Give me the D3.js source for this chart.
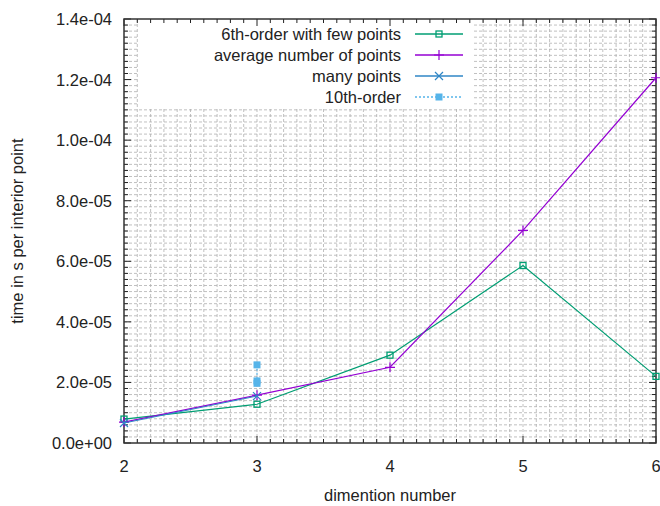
<!doctype html>
<html lang="en">
<head>
  <meta charset="utf-8">
  <title>time per interior point</title>
  <script src="https://cdnjs.cloudflare.com/ajax/libs/d3/7.8.5/d3.min.js"></script>
  <style>
    body { margin: 0; background: #fff; }
    text { font-family: "Liberation Sans", Arial, sans-serif; fill: #222; }
  </style>
</head>
<body>
<svg width="660" height="506" id="svg"></svg>
<script>
// data
var fewX = [2, 3, 4, 5, 6];
var fewY = [7.9e-6, 1.28e-5, 2.9e-5, 5.86e-5, 2.2e-5];
var avgX = [2, 3, 4, 5, 6];
var avgY = [6.9e-6, 1.58e-5, 2.5e-5, 7.02e-5, 1.206e-4];
var manyX = [2, 3];
var manyY = [6.6e-6, 1.55e-5];
var tenthX = [3, 3, 3];
var tenthY = [2.58e-5, 2.05e-5, 1.97e-5];

var xTicks = [2, 3, 4, 5, 6];
var yTicks = [0, 2e-5, 4e-5, 6e-5, 8e-5, 1e-4, 1.2e-4, 1.4e-4];
var legendNames = ['6th-order with few points', 'average number of points', 'many points', '10th-order'];

var svg = d3.select('#svg');
var L = 124, R = 656, T = 19, B = 443;
var fs = 16.5;

var x = d3.scaleLinear().domain([2, 6]).range([L, R]);
var y = d3.scaleLinear().domain([0, 1.4e-4]).range([B, T]);

var xMinor = d3.range(20, 61).map(function(d) { return d / 10; });
var yMinor = d3.range(0, 71).map(function(d) { return d * 0.2e-5; });

/* grid: dashed grey on every minor step */
var grid = svg.append('g');
grid.selectAll('.gx').data(xMinor.slice(1, -1)).enter().append('line')
  .attr('x1', function(d) { return x(d); }).attr('x2', function(d) { return x(d); })
  .attr('y1', T).attr('y2', B)
  .attr('stroke', '#b0b0b0').attr('stroke-width', 0.8).attr('stroke-dasharray', '3,2');
grid.selectAll('.gy').data(yMinor.slice(1, -1)).enter().append('line')
  .attr('x1', L).attr('x2', R)
  .attr('y1', function(d) { return y(d); }).attr('y2', function(d) { return y(d); })
  .attr('stroke', '#b0b0b0').attr('stroke-width', 0.8).attr('stroke-dasharray', '3,2');

/* legend box hides the grid behind it */
svg.append('rect').attr('x', 138).attr('y', T + 1).attr('width', 336).attr('height', 88).attr('fill', '#fff');

/* minor + major ticks, mirrored on all sides */
var ticks = svg.append('g').attr('stroke', '#222').attr('stroke-width', 1);
xMinor.forEach(function(d) {
  var len = xTicks.indexOf(d) >= 0 ? 7 : 4;
  ticks.append('line').attr('x1', x(d)).attr('x2', x(d)).attr('y1', B).attr('y2', B - len);
  ticks.append('line').attr('x1', x(d)).attr('x2', x(d)).attr('y1', T).attr('y2', T + len);
});
yMinor.forEach(function(d, i) {
  var len = i % 10 == 0 ? 7 : 4;
  ticks.append('line').attr('x1', L).attr('x2', L + len).attr('y1', y(d)).attr('y2', y(d));
  ticks.append('line').attr('x1', R).attr('x2', R - len).attr('y1', y(d)).attr('y2', y(d));
});

svg.append('rect').attr('x', L).attr('y', T).attr('width', R - L).attr('height', B - T)
  .attr('fill', 'none').attr('stroke', '#333').attr('stroke-width', 1.5);

/* tick labels */
svg.selectAll('.xl').data(xTicks).enter().append('text')
  .attr('x', function(d) { return x(d); }).attr('y', B + 29)
  .attr('text-anchor', 'middle').attr('font-size', fs).text(function(d) { return d; });
svg.selectAll('.yl').data(yTicks).enter().append('text')
  .attr('x', L - 12).attr('y', function(d) { return y(d) + 6; })
  .attr('text-anchor', 'end').attr('font-size', fs)
  .text(function(d) { return d3.format('.1e')(d).replace(/e([+-])(\d)$/, 'e$10$2'); });

svg.append('text').attr('x', (L + R) / 2).attr('y', 501).attr('text-anchor', 'middle')
  .attr('font-size', fs).text('dimention number');
svg.append('text').attr('transform', 'translate(23,' + ((T + B) / 2) + ') rotate(-90)')
  .attr('text-anchor', 'middle').attr('font-size', fs).text('time in s per interior point');

/* series */
var series = [
  { xs: fewX, ys: fewY, color: '#009e73', mark: 'sq', dash: null },
  { xs: avgX, ys: avgY, color: '#9400d3', mark: 'plus', dash: null },
  { xs: manyX, ys: manyY, color: '#2f86c6', mark: 'x', dash: null },
  { xs: tenthX, ys: tenthY, color: '#56b4e9', mark: 'fsq', dash: '2,2' }
];

function marker(g, kind, cx, cy, color) {
  if (kind == 'sq') {
    g.append('rect').attr('x', cx - 3).attr('y', cy - 3).attr('width', 6).attr('height', 6)
      .attr('fill', 'none').attr('stroke', color).attr('stroke-width', 1.3);
  } else if (kind == 'fsq') {
    g.append('rect').attr('x', cx - 3.5).attr('y', cy - 3.5).attr('width', 7).attr('height', 7)
      .attr('fill', color);
  } else if (kind == 'plus') {
    g.append('path').attr('d', 'M' + (cx - 5) + ',' + cy + 'h10M' + cx + ',' + (cy - 5) + 'v10')
      .attr('stroke', color).attr('stroke-width', 1.2);
  } else {
    g.append('path').attr('d', 'M' + (cx - 4) + ',' + (cy - 4) + 'l8,8M' + (cx - 4) + ',' + (cy + 4) + 'l8,-8')
      .attr('stroke', color).attr('stroke-width', 1.2);
  }
}

var line = d3.line().x(function(d) { return x(d[0]); }).y(function(d) { return y(d[1]); });
series.forEach(function(s) {
  var pts = d3.zip(s.xs, s.ys);
  var g = svg.append('g');
  g.append('path').attr('d', line(pts)).attr('fill', 'none').attr('stroke', s.color)
    .attr('stroke-width', 1.2).attr('stroke-dasharray', s.dash);
  pts.forEach(function(p) { marker(g, s.mark, x(p[0]), y(p[1]), s.color); });
});

/* legend */
series.forEach(function(s, i) {
  var ly = 34 + i * 21;
  var g = svg.append('g');
  g.append('text').attr('x', 401).attr('y', ly + 6).attr('text-anchor', 'end')
    .attr('font-size', fs).text(legendNames[i]);
  g.append('line').attr('x1', 415).attr('x2', 463).attr('y1', ly).attr('y2', ly)
    .attr('stroke', s.color).attr('stroke-width', 1.5).attr('stroke-dasharray', s.dash);
  marker(g, s.mark, 439, ly, s.color);
});
</script>
</body>
</html>
